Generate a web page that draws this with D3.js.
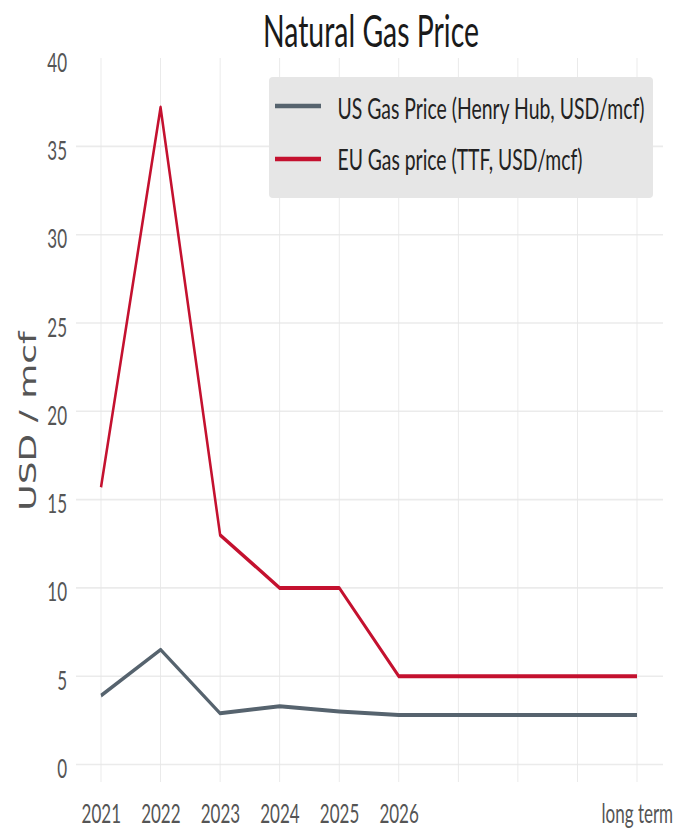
<!DOCTYPE html>
<html>
<head>
<meta charset="utf-8">
<script src="https://cdn.jsdelivr.net/npm/d3@7"></script>
<style>
  html, body { margin: 0; padding: 0; background: #ffffff; }
  svg { display: block; }
</style>
</head>
<body>
<svg id="chart" width="684" height="830"></svg>
<script>
// ---- data ----
const categories = ["2021", "2022", "2023", "2024", "2025", "2026", "2027", "2028", "2029", "long term"];
const tickLabels = ["2021", "2022", "2023", "2024", "2025", "2026", "", "", "", "long term"];
const usGas = [3.9, 6.5, 2.9, 3.3, 3.0, 2.8, null, null, null, 2.8];
const euGas = [15.7, 37.2, 13.0, 10.0, 10.0, 5.0, null, null, null, 5.0];
const yTicks = [0, 5, 10, 15, 20, 25, 30, 35, 40];
const gridValues = [0, 5, 10, 15, 20, 25, 30, 35];
const seriesNames = ["US Gas Price (Henry Hub, USD/mcf)", "EU Gas price (TTF, USD/mcf)"];
const seriesColors = ["#56636e", "#c4112f"];
const titleText = "Natural Gas Price";
const yTitle = "USD / mcf";

// ---- layout ----
const SX = 0.63; // horizontal compression of the whole figure
const vx = v => v / SX; // real px -> virtual px

const svg = d3.select("#chart");
const g = svg.append("g").attr("transform", `scale(${SX},1)`);

const x = d3.scalePoint().domain(categories).range([vx(101), vx(637)]);
const y = d3.scaleLinear().domain([0, 40]).range([764.5, 58.1]);

const panelLeft = vx(76), panelRight = vx(663), panelTop = 58, panelBottom = 782;

// gridlines
g.append("g").selectAll("line.h").data(gridValues).join("line")
  .attr("x1", panelLeft).attr("x2", panelRight)
  .attr("y1", d => y(d)).attr("y2", d => y(d))
  .attr("stroke", "#ebebeb").attr("stroke-width", 1.6);

g.append("g").selectAll("line.v").data(categories).join("line")
  .attr("x1", d => x(d)).attr("x2", d => x(d))
  .attr("y1", panelTop).attr("y2", panelBottom)
  .attr("stroke", "#e6e6e6").attr("stroke-width", 1.3);

// lines
const lineGen = d3.line().x(d => x(d.c)).y(d => y(d.v));
[usGas, euGas].forEach((vals, i) => {
  const pts = categories.map((c, j) => ({ c, v: vals[j] })).filter(d => d.v !== null);
  g.append("path").datum(pts)
    .attr("d", lineGen)
    .attr("fill", "none")
    .attr("stroke", seriesColors[i])
    .attr("stroke-width", 4)
    .attr("stroke-linejoin", "round")
    .attr("stroke-linecap", "butt");
});

// x axis labels
const xAxis = d3.axisBottom(x).tickSize(0).tickPadding(0)
  .tickFormat((d, i) => tickLabels[i]);
const xg = g.append("g").attr("transform", "translate(0,823)").call(xAxis);
xg.select(".domain").remove();
xg.selectAll("text")
  .attr("y", 0).attr("dy", 0)
  .attr("font-family", "Lato, 'Open Sans', sans-serif")
  .attr("font-size", 27)
  .attr("fill", "#555555");

// y axis labels
const yAxis = d3.axisLeft(y).tickValues(yTicks).tickSize(0).tickPadding(0);
const yg = g.append("g").attr("transform", `translate(${vx(67)},0)`).call(yAxis);
yg.select(".domain").remove();
yg.selectAll("text")
  .attr("x", 0).attr("dy", 0)
  .attr("transform", "translate(0,13)")
  .attr("font-family", "Lato, 'Open Sans', sans-serif")
  .attr("font-size", 27)
  .attr("fill", "#555555");

// y title
g.append("text")
  .attr("transform", `translate(${vx(36)},421) rotate(-90)`)
  .attr("text-anchor", "middle")
  .attr("font-family", "'DejaVu Sans', sans-serif")
  .attr("font-size", 36)
  .attr("fill", "#555555")
  .text(yTitle);

// title
g.append("text")
  .attr("x", vx(371)).attr("y", 46.7)
  .attr("text-anchor", "middle")
  .attr("font-family", "Lato, 'Open Sans', sans-serif")
  .attr("font-size", 44)
  .attr("fill", "#1a1a1a")
  .attr("textLength", vx(216))
  .attr("lengthAdjust", "spacingAndGlyphs")
  .text(titleText);

// legend
const lg = g.append("g");
lg.append("rect")
  .attr("x", vx(269)).attr("y", 77)
  .attr("width", vx(653) - vx(269)).attr("height", 121)
  .attr("rx", vx(4)).attr("ry", 4)
  .attr("fill", "#e6e6e6");
const legendLineY = [106, 159];
const legendTextY = [119, 170];
const legendTextW = [307, 245];
seriesNames.forEach((name, i) => {
  lg.append("line")
    .attr("x1", vx(275)).attr("x2", vx(321))
    .attr("y1", legendLineY[i]).attr("y2", legendLineY[i])
    .attr("stroke", seriesColors[i]).attr("stroke-width", 4.5);
  lg.append("text")
    .attr("x", vx(337.5)).attr("y", legendTextY[i])
    .attr("font-family", "Lato, 'Open Sans', sans-serif")
    .attr("font-size", 28)
    .attr("fill", "#222222")
    .attr("textLength", vx(legendTextW[i]))
    .attr("lengthAdjust", "spacingAndGlyphs")
    .text(name);
});
</script>
</body>
</html>
